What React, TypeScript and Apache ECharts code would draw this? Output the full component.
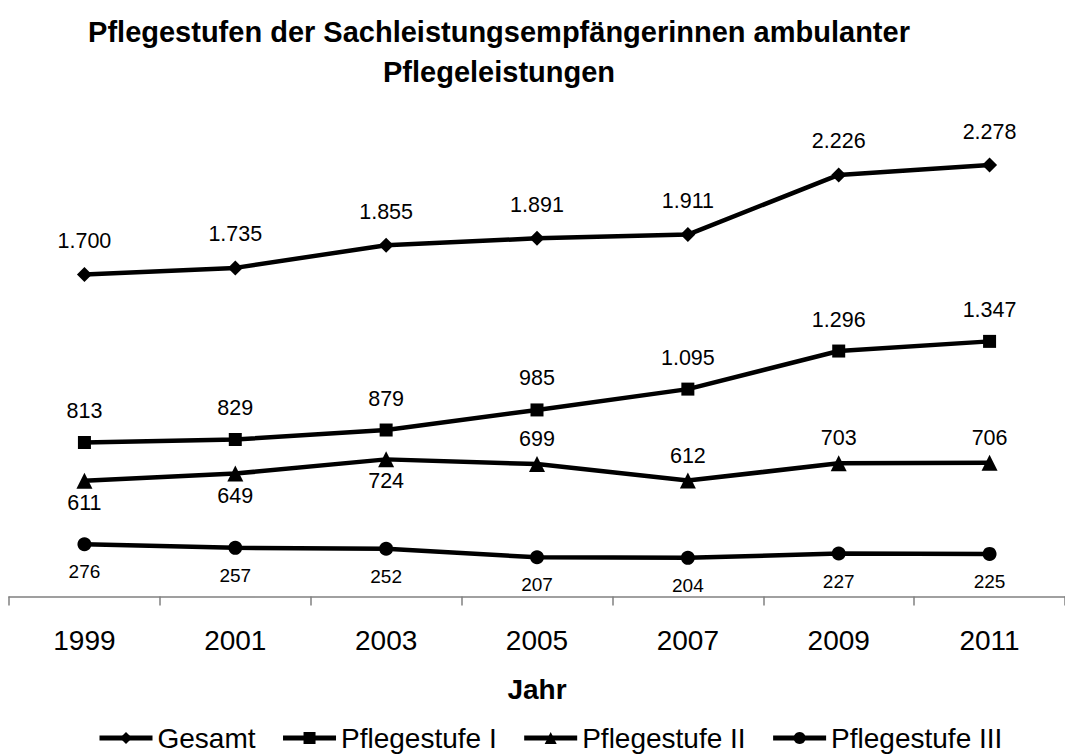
import React, { useEffect, useRef } from "react";
import * as echarts from "echarts";

const years = ["1999", "2001", "2003", "2005", "2007", "2009", "2011"];
const gesamt = [1700, 1735, 1855, 1891, 1911, 2226, 2278];
const stufe1 = [813, 829, 879, 985, 1095, 1296, 1347];
const stufe2 = [611, 649, 724, 699, 612, 703, 706];
const stufe3 = [276, 257, 252, 207, 204, 227, 225];
const seriesNames = ["Gesamt", "Pflegestufe I", "Pflegestufe II", "Pflegestufe III"];
const stufe2LabelPlacement = ["bottom", "bottom", "bottom", "top", "top", "top", "top"];

const FONT = "'Liberation Sans', Arial, Helvetica, sans-serif";

const fmt = (v: number) => String(v).replace(/\B(?=(\d{3})+(?!\d))/g, ".");

export default function App() {
  const ref = useRef<HTMLDivElement>(null);

  useEffect(() => {
    if (!ref.current) return;
    const chart = echarts.init(ref.current, undefined, { renderer: "svg" });

    const baseLine = {
      type: "line" as const,
      lineStyle: { color: "#000", width: 4.5 },
      itemStyle: { color: "#000" },
      emphasis: { disabled: true },
    };

    const labelBase = {
      show: true,
      color: "#000",
      fontFamily: FONT,
      fontSize: 21.5,
      formatter: (p: any) => fmt(p.value),
    };

    chart.setOption({
      animation: false,
      backgroundColor: "#fff",
      textStyle: { fontFamily: FONT },
      title: {
        text: "Pflegestufen der Sachleistungsempfängerinnen ambulanter\nPflegeleistungen",
        left: 494,
        top: 7,
        textAlign: "center",
        textStyle: {
          fontFamily: FONT,
          fontSize: 29,
          fontWeight: "bold",
          color: "#000",
          lineHeight: 40,
        },
      },
      legend: {
        data: seriesNames,
        left: 97,
        top: 724,
        padding: 0,
        itemWidth: 53,
        itemHeight: 15,
        itemGap: 25,
        lineStyle: { width: 5, color: "#000" },
        textStyle: { fontFamily: FONT, fontSize: 28, color: "#000" },
      },
      grid: { left: 9, right: -3, top: 123, bottom: 157.5 },
      xAxis: {
        type: "category",
        data: years,
        boundaryGap: true,
        axisLine: { show: true, lineStyle: { color: "#808080", width: 1.5 } },
        axisTick: {
          show: true,
          alignWithLabel: false,
          inside: false,
          length: 9,
          lineStyle: { color: "#808080", width: 1.5 },
        },
        axisLabel: { fontFamily: FONT, fontSize: 28, color: "#000", margin: 30 },
        name: "Jahr",
        nameLocation: "middle",
        nameGap: 79,
        nameTextStyle: { fontFamily: FONT, fontSize: 28, fontWeight: "bold", color: "#000" },
      },
      yAxis: {
        type: "value",
        min: 0,
        max: 2500,
        show: false,
        splitLine: { show: false },
      },
      series: [
        {
          ...baseLine,
          name: seriesNames[0],
          data: gesamt,
          symbol: "diamond",
          symbolSize: 15,
          label: { ...labelBase, position: "top", distance: 15 },
        },
        {
          ...baseLine,
          name: seriesNames[1],
          data: stufe1,
          symbol: "rect",
          symbolSize: 13,
          label: { ...labelBase, position: "top", distance: 14 },
        },
        {
          ...baseLine,
          name: seriesNames[2],
          data: stufe2.map((v, i) => ({
            value: v,
            label: {
              position: stufe2LabelPlacement[i],
              distance: stufe2LabelPlacement[i] === "top" ? 6 : 3,
            },
          })),
          symbol: "triangle",
          symbolSize: 16,
          label: { ...labelBase },
        },
        {
          ...baseLine,
          name: seriesNames[3],
          data: stufe3,
          symbol: "circle",
          symbolSize: 14,
          label: { ...labelBase, fontSize: 19, position: "bottom", distance: 11 },
        },
      ],
    });

    return () => chart.dispose();
  }, []);

  return (
    <div
      ref={ref}
      style={{ position: "absolute", left: 0, top: 0, width: 1065, height: 754 }}
    />
  );
}
